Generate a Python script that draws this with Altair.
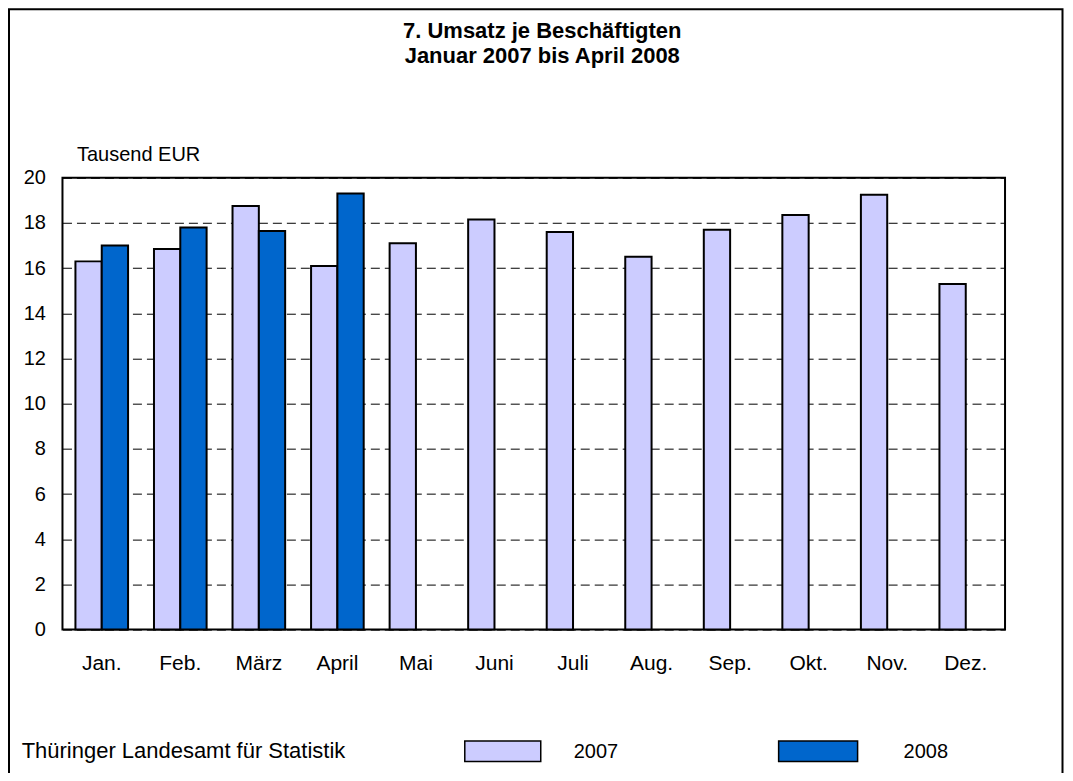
import altair as alt
import pandas as pd

months = ["Jan.", "Feb.", "März", "April", "Mai", "Juni", "Juli", "Aug.", "Sep.", "Okt.", "Nov.", "Dez."]
v2007 = [16.3, 16.85, 18.75, 16.1, 17.1, 18.15, 17.6, 16.5, 17.7, 18.35, 19.25, 15.3]
v2008 = [17.0, 17.8, 17.65, 19.3]
years = ["2007", "2008"]
colors = ["#CCCCFF", "#0066CC"]
y_ticks = [0, 2, 4, 6, 8, 10, 12, 14, 16, 18, 20]

title_lines = ["7. Umsatz je Beschäftigten", "Januar 2007 bis April 2008"]
unit_label = "Tausend EUR"
source_label = "Thüringer Landesamt für Statistik"

FONT = "Liberation Sans"

rows = []
for m, v in zip(months, v2007):
    rows.append({"Monat": m, "Jahr": "2007", "Wert": v})
for m, v in zip(months, v2008):
    rows.append({"Monat": m, "Jahr": "2008", "Wert": v})
df = pd.DataFrame(rows)

color_scale = alt.Scale(domain=years, range=colors)

bars = alt.Chart(df).mark_bar(stroke="black", strokeWidth=2).encode(
    x=alt.X("Monat:N", sort=months,
            scale=alt.Scale(paddingInner=0.33, paddingOuter=0.165),
            axis=alt.Axis(title=None, labelAngle=0, ticks=False, domain=False,
                          labelFontSize=21, labelPadding=23, labelColor="black",
                          labelFont=FONT)),
    xOffset=alt.XOffset("Jahr:N", scale=alt.Scale(domain=years, paddingInner=0, paddingOuter=0)),
    y=alt.Y("Wert:Q", scale=alt.Scale(domain=[0, 20], nice=False),
            axis=alt.Axis(values=y_ticks, title=None, grid=True, gridDash=[9, 5],
                          gridColor="black", gridWidth=1, ticks=False, domain=False,
                          labelFontSize=20, labelPadding=17, labelColor="black",
                          labelFont=FONT)),
    color=alt.Color("Jahr:N", scale=color_scale, legend=None),
)

one = pd.DataFrame({"k": [0]})

frame = alt.Chart(one).mark_rect(fillOpacity=0, stroke="black", strokeWidth=2).encode(
    x=alt.value(-53.5), x2=alt.value(1000.5), y=alt.value(-168.7), y2=alt.value(700)
)

def text_layer(txt, x, y, size=20, bold=False, align="left"):
    return alt.Chart(pd.DataFrame({"t": [txt]})).mark_text(
        font=FONT, fontSize=size, fontWeight="bold" if bold else "normal",
        align=align, baseline="alphabetic", color="black"
    ).encode(text="t:N", x=alt.value(x), y=alt.value(y))

t1 = text_layer(title_lines[0], 480, -139.5, size=22, bold=True, align="center")
t2 = text_layer(title_lines[1], 480, -115.0, size=22, bold=True, align="center")
unit = text_layer(unit_label, 14.5, -17, size=20)
src = text_layer(source_label, -40.8, 580.3, size=22)

leg_pos = {"2007": (402.5, 478.5, 511.5), "2008": (716.5, 795.5, 841.5)}
leg_layers = []
for yr in years:
    x0, x1, xt = leg_pos[yr]
    sw = alt.Chart(pd.DataFrame({"Jahr": [yr]})).mark_rect(stroke="black", strokeWidth=1.5).encode(
        x=alt.value(x0), x2=alt.value(x1), y=alt.value(563.5), y2=alt.value(584),
        color=alt.Color("Jahr:N", scale=color_scale, legend=None),
    )
    lt = text_layer(yr, xt, 580.5, size=20)
    leg_layers += [sw, lt]

chart = alt.layer(frame, bars, t1, t2, unit, src, *leg_layers).properties(
    width=943, height=452,
    autosize="none",
    padding={"left": 54.5, "top": 169.7, "right": 60, "bottom": 143},
).configure(font=FONT).configure_view(stroke="black", strokeWidth=2)

chart.save("out.html", embed_options={"renderer": "svg", "actions": False})
